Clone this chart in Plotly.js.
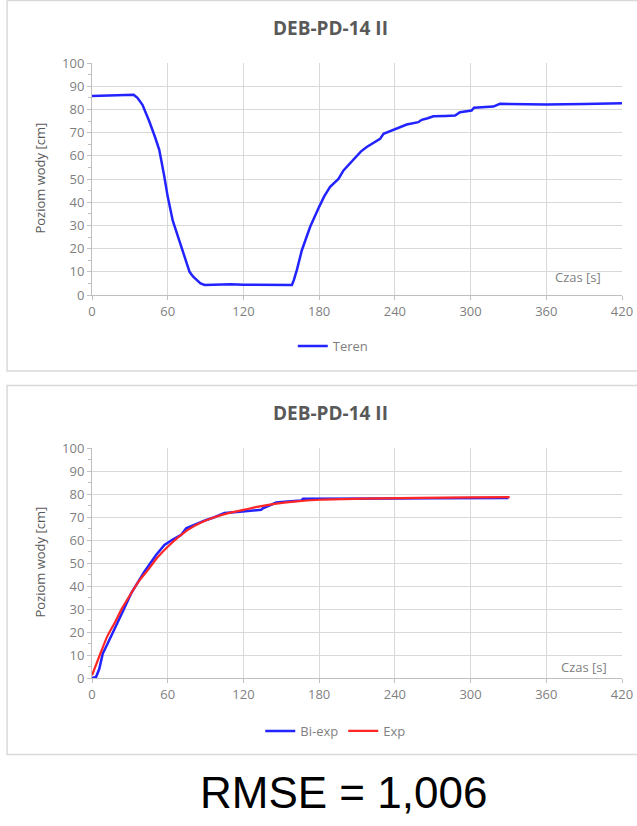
<!DOCTYPE html>
<html>
<head>
<meta charset="utf-8">
<script src="https://cdn.plot.ly/plotly-3.0.1.min.js"></script>
<style>
html,body{margin:0;padding:0;background:#fff;}
#chart{width:637px;height:826px;}
</style>
</head>
<body>
<div id="chart"></div>
<script>
// ---- Data ----
var chartTitle = "DEB-PD-14 II";
var yTitle = "Poziom wody [cm]";
var xLabel = "Czas [s]";
var rmseText = "RMSE = 1,006";
var xTicks = [0, 60, 120, 180, 240, 300, 360, 420];
var yTicks = [0, 10, 20, 30, 40, 50, 60, 70, 80, 90, 100];

// Top chart: "Teren"
var terenT = [0, 10, 20, 30, 33, 36, 40, 43, 45.3, 50, 53.3, 57, 60, 64, 68, 72, 77.3, 80, 82.7, 86, 89.3, 95, 100, 110, 120, 130, 140, 150, 158.4, 160, 162.3, 166.3, 172.9, 180, 184, 188.7, 195.3, 199.3, 204, 208.5, 213, 217.7, 223, 228.3, 231, 236, 240, 245, 249.4, 258.6, 261.3, 266, 270.5, 280, 287.7, 291.6, 296, 300.8, 302.7, 310, 318, 323.3, 340, 360, 390, 420];
var terenV = [85.8, 85.9, 86, 86.2, 86.3, 85, 82, 78, 75, 68, 62.6, 52, 42.4, 32, 25.2, 18, 10, 8, 6.5, 5, 4.3, 4.4, 4.6, 4.6, 4.4, 4.3, 4.3, 4.3, 4.3, 6.5, 10.7, 19.3, 29.4, 38, 42.5, 46.6, 50, 53.7, 56.5, 59.5, 61.8, 63.8, 65.6, 67.3, 69.5, 70.5, 71.6, 72.6, 73.5, 74.5, 75.5, 76.2, 77, 77.2, 77.4, 78.8, 79.2, 79.5, 80.7, 81, 81.2, 82.4, 82.3, 82.1, 82.3, 82.7];

// Bottom chart: "Bi-exp" (measured, blue)
var biT = [0, 3.2, 5.8, 8.5, 12.4, 17.7, 23, 31, 41.5, 50.8, 57.4, 64, 70.6, 74.6, 83.9, 90, 97, 105, 115, 123.5, 134, 135.4, 140, 146, 155, 165.9, 167.2, 180, 189.7, 200, 220, 240, 270, 300, 330];
var biV = [0, 0.4, 4, 10.6, 15, 20.8, 27.3, 36.8, 46.2, 53.5, 57.8, 60.2, 62.2, 65.1, 67.3, 68.6, 69.9, 71.7, 72.2, 72.7, 73.1, 73.8, 75, 76.3, 76.7, 77.2, 77.9, 77.9, 77.9, 77.7, 77.8, 78, 78.1, 78.2, 78.3];

// Bottom chart: "Exp" (fit, red)
var expT = [0, 7.1, 12, 17.7, 24, 31, 37, 44.2, 52, 60, 68, 75.9, 86, 97, 108, 120, 132, 144.7, 160, 180.4, 200, 229, 260, 300, 331];
var expV = [1.2, 11.3, 18, 23.7, 30.5, 36.8, 42, 46.9, 52.5, 57.1, 61, 64.4, 67.5, 69.9, 71.7, 73.1, 74.5, 75.7, 76.7, 77.5, 77.8, 78.1, 78.3, 78.5, 78.6];

// ---- Layout helpers (pixel -> paper) ----
var L = 91.5, R = 622, T = 63, B = 678;
function px(x){ return (x - L) / (R - L); }
function py(y){ return (B - y) / (B - T); }

var gray = "#595959";
var lightGray = "#7f7f7f";
var gridC = "#d9d9d9";
var fontFam = "Open Sans, Liberation Sans, sans-serif";

function xAxis(anchor){
  return {
    anchor: anchor, domain: [0, 1], range: [0, 420], tickvals: xTicks,
    showgrid: true, gridcolor: gridC, gridwidth: 1,
    showline: true, linecolor: "#bfbfbf", linewidth: 1,
    ticks: "outside", ticklen: 4, tickcolor: "#bfbfbf",
    zeroline: false, fixedrange: true,
    tickfont: {family: fontFam, size: 13, color: lightGray}
  };
}
function yAxis(anchor, dom){
  return {
    anchor: anchor, domain: dom, range: [0, 100], tickvals: yTicks,
    showgrid: true, gridcolor: gridC, gridwidth: 1,
    showline: true, linecolor: "#bfbfbf", linewidth: 1,
    ticks: "outside", ticklen: 4, tickcolor: "#bfbfbf",
    minor: {dtick: 5, ticks: "outside", ticklen: 3, tickcolor: "#bfbfbf", showgrid: false},
    zeroline: false, fixedrange: true,
    tickfont: {family: fontFam, size: 13, color: lightGray}
  };
}

var traces = [
  {x: terenT, y: terenV, type: "scatter", mode: "lines", name: "Teren",
   line: {color: "#2323ff", width: 2.5}, xaxis: "x", yaxis: "y", legend: "legend"},
  {x: biT, y: biV, type: "scatter", mode: "lines", name: "Bi-exp",
   line: {color: "#2323ff", width: 2.5}, xaxis: "x2", yaxis: "y2", legend: "legend2"},
  {x: expT, y: expV, type: "scatter", mode: "lines", name: "Exp",
   line: {color: "#ff2626", width: 2.2, shape: "spline", smoothing: 0.6}, xaxis: "x2", yaxis: "y2", legend: "legend2"}
];

var legendBase = {
  orientation: "h", xanchor: "center", yanchor: "middle",
  font: {family: fontFam, size: 13, color: lightGray},
  bgcolor: "rgba(0,0,0,0)", itemwidth: 30, tracegroupgap: 0
};

var layout = {
  width: 637, height: 826,
  margin: {l: L, r: 637 - R, t: T, b: 826 - B},
  paper_bgcolor: "#ffffff", plot_bgcolor: "#ffffff",
  xaxis: xAxis("y"),
  yaxis: yAxis("x", [py(295), 1]),
  xaxis2: xAxis("y2"),
  yaxis2: yAxis("x2", [0, py(448)]),
  showlegend: true,
  legend: Object.assign({}, legendBase, {x: px(333), y: py(346)}),
  legend2: Object.assign({}, legendBase, {x: px(335), y: py(731)}),
  shapes: [
    {type: "rect", xref: "paper", yref: "paper", x0: px(6.5), x1: px(660), y0: py(371), y1: py(0.5),
     line: {color: "#d9d9d9", width: 1.5}, fillcolor: "rgba(0,0,0,0)", layer: "below"},
    {type: "rect", xref: "paper", yref: "paper", x0: px(6.5), x1: px(660), y0: py(754.5), y1: py(385.5),
     line: {color: "#d9d9d9", width: 1.5}, fillcolor: "rgba(0,0,0,0)", layer: "below"}
  ],
  annotations: [
    {text: "<b>" + chartTitle + "</b>", xref: "paper", yref: "paper", x: px(330), y: py(28),
     showarrow: false, xanchor: "center", yanchor: "middle",
     font: {family: fontFam, size: 19, color: gray}},
    {text: "<b>" + chartTitle + "</b>", xref: "paper", yref: "paper", x: px(330), y: py(413),
     showarrow: false, xanchor: "center", yanchor: "middle",
     font: {family: fontFam, size: 19, color: gray}},
    {text: yTitle, xref: "paper", yref: "paper", x: px(39), y: py(178), textangle: -90,
     showarrow: false, xanchor: "center", yanchor: "middle",
     font: {family: fontFam, size: 13, color: gray}},
    {text: yTitle, xref: "paper", yref: "paper", x: px(39), y: py(562), textangle: -90,
     showarrow: false, xanchor: "center", yanchor: "middle",
     font: {family: fontFam, size: 13, color: gray}},
    {text: xLabel, xref: "paper", yref: "paper", x: px(578), y: py(277),
     showarrow: false, xanchor: "center", yanchor: "middle",
     font: {family: fontFam, size: 13, color: lightGray}},
    {text: xLabel, xref: "paper", yref: "paper", x: px(584), y: py(667),
     showarrow: false, xanchor: "center", yanchor: "middle",
     font: {family: fontFam, size: 13, color: lightGray}},
    {text: rmseText, xref: "paper", yref: "paper", x: px(343), y: py(792),
     showarrow: false, xanchor: "center", yanchor: "middle",
     font: {family: "Liberation Sans, Arial, sans-serif", size: 44, color: "#000000"}}
  ]
};

Plotly.newPlot("chart", traces, layout, {displayModeBar: false, staticPlot: true});
</script>
</body>
</html>
